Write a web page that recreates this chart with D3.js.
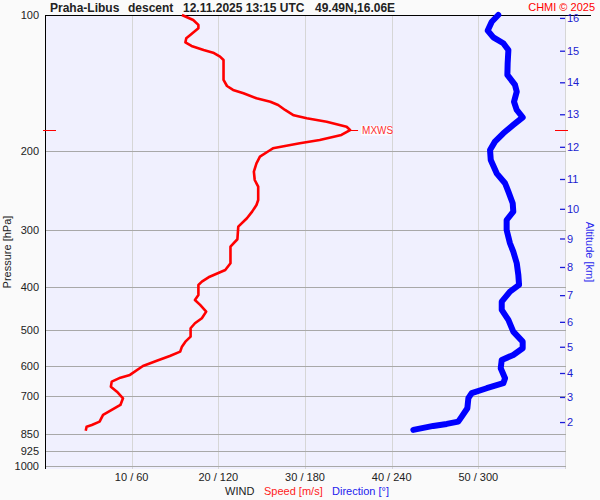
<!DOCTYPE html>
<html><head><meta charset="utf-8">
<script src="https://cdn.jsdelivr.net/npm/d3@7"></script>
<style>
body{margin:0;background:#fafafa}
svg{display:block;font-family:"Liberation Sans",Arial,sans-serif}
</style>
</head><body><svg id="c" width="600" height="500"></svg>
<script>
// ---- data ----
const titleParts = ["Praha-Libus", "descent", "12.11.2025 13:15 UTC", "49.49N,16.06E"];
const pressureTicks = [100, 200, 300, 400, 500, 600, 700, 850, 925, 1000];
const windTicks = [10, 20, 30, 40, 50];
const windTickLabels = ["10 / 60", "20 / 120", "30 / 180", "40 / 240", "50 / 300"];
const altKm = [2, 3, 4, 5, 6, 7, 8, 9, 10, 11, 12, 13, 14, 15, 16];
const altPressure = [799, 703, 622, 544, 479, 418, 362, 313, 269, 231, 196, 166, 141, 120, 101.5];

const speedPressure = [100,102.6,105.2,107,110.2,112.6,115,117.1,119.6,121.2,123.7,125.8,139.3,143.7,146.6,149.1,153,155.7,158.3,162.4,166.9,169.4,172.4,176.9,179.9,184.5,189.3,192.5,197.5,199.2,206.1,213.2,222.5,232.2,240.2,257.1,263.8,272.9,282.3,294.7,314.2,326.3,355.2,367.6,380.4,390.2,396.8,417.6,428.4,439.4,454.7,470.3,482.5,495,516.7,530,543.7,557.8,570.2,584,600,628.2,637,650.1,667,684.2,707.7,732.3,751.2,770.5,797.4,811,818,834.9];
const speedValues = [15.8,17.1,17.7,17.7,16.9,16.3,16.2,16.9,18.3,19.4,20.2,20.6,20.6,21.0,21.7,22.9,24.4,26.0,26.9,27.7,28.7,30.2,32.5,34.8,35.2,34.2,31.7,29.4,26.3,26.0,24.8,24.4,24.1,24.2,24.6,24.6,24.4,23.9,23.3,22.3,22.2,21.4,21.4,20.8,19.0,18.1,17.7,17.7,17.3,17.9,18.6,18.1,17.3,16.8,16.8,16.2,15.8,15.6,14.4,12.9,11.3,9.8,8.7,7.7,7.6,8.3,9.0,8.7,7.7,6.7,6.3,5.4,4.8,4.7];

const dirPressure = [100,103.5,108.3,112.1,115.5,119.6,128,135.8,142.9,147.9,155.7,162.4,168.6,175.3,182.9,190.9,199.2,209.6,224.4,236.1,246.4,261.5,272.9,284.8,299.7,320.7,334.8,355.2,377.1,396.8,410.6,432.1,450.8,474.4,503.6,530,548.2,567.2,581.9,607.1,638.7,655.4,672.3,689.6,707.4,744.7,777.1,797.4,806.7,815,831.8];
const dirValues = [313.8,309.3,306.5,310.4,317.3,320.8,320.3,320.1,325.4,326.6,324.7,326.6,330.7,324.2,317.3,311.5,308.1,308.6,312.7,318.5,320.8,323.8,324.2,319.6,319.6,321.9,324.2,326.6,327.7,328.2,321.9,316.2,316.2,320.8,324.2,330.7,330.7,324.2,316.2,315.5,318.5,317.3,305.8,295.4,293.1,292.4,288.5,286.1,278.1,268.8,255.0];

// ---- layout ----
const L = 45, R = 566, T = 15, B = 469;
const svg = d3.select("#c");
const y = d3.scaleLog().domain([100, 1000]).range([T, 466]);
const xs = d3.scaleLinear().domain([0, 60]).range([L, 565]);
const xd = d3.scaleLinear().domain([0, 360]).range([L, 565]);

svg.append("rect").attr("x", 0).attr("y", 0).attr("width", 600).attr("height", 500).attr("fill", "#fafafa");
svg.append("rect").attr("x", L).attr("y", T).attr("width", R - L).attr("height", B - T).attr("fill", "#f0f0fe");

// vertical grid
svg.append("g").selectAll("line").data(windTicks.concat([60])).join("line")
  .attr("x1", d => Math.round(xs(d)) + 0.5).attr("x2", d => Math.round(xs(d)) + 0.5)
  .attr("y1", T).attr("y2", B).attr("stroke", "#d6d6d6").attr("stroke-width", 1);

// horizontal grid
svg.append("g").selectAll("line").data(pressureTicks.slice(1)).join("line")
  .attr("x1", L).attr("x2", R)
  .attr("y1", d => Math.round(y(d)) + 0.5).attr("y2", d => Math.round(y(d)) + 0.5)
  .attr("stroke", "#a8a8a8").attr("stroke-width", 1);

// left pressure axis labels
const ay = svg.append("g").attr("transform", `translate(${L},0)`)
  .call(d3.axisLeft(y).tickValues(pressureTicks).tickSize(0).tickPadding(6).tickFormat(d3.format("d")));
ay.select(".domain").remove();
ay.selectAll("text").attr("font-size", 11).attr("fill", "#222").attr("font-family", "Liberation Sans, Arial, sans-serif");

// axis frame lines
svg.append("line").attr("x1", L + 0.5).attr("x2", L + 0.5).attr("y1", T).attr("y2", B).attr("stroke", "#000");
svg.append("line").attr("x1", L).attr("x2", 591).attr("y1", T + 0.5).attr("y2", T + 0.5).attr("stroke", "#000");

// right altitude axis
const ar = svg.append("g").attr("transform", `translate(560,0)`)
  .call(d3.axisRight(y).tickValues(altPressure).tickSize(5).tickPadding(2).tickFormat((d, i) => altKm[i]));
ar.select(".domain").remove();
ar.selectAll("line").attr("stroke", "#1c1cd8").attr("stroke-width", 1.3);
ar.selectAll("text").attr("font-size", 11).attr("fill", "#1c1cd0").attr("font-family", "Liberation Sans, Arial, sans-serif");

// bottom wind tick labels
svg.append("g").selectAll("text").data(windTicks).join("text")
  .attr("x", d => xs(d)).attr("y", 481).attr("text-anchor", "middle")
  .attr("font-size", 11).attr("fill", "#222").text((d, i) => windTickLabels[i]);

// curves
const speedData = speedPressure.map((p, i) => ({p, v: speedValues[i]}));
const dirData = dirPressure.map((p, i) => ({p, v: dirValues[i]}));

svg.append("path").datum(dirData)
  .attr("d", d3.line().x(d => xd(d.v)).y(d => y(d.p)))
  .attr("fill", "none").attr("stroke", "#0000ff").attr("stroke-width", 6)
  .attr("stroke-linecap", "round").attr("stroke-linejoin", "round");

svg.append("path").datum(speedData)
  .attr("d", d3.line().x(d => xs(d.v)).y(d => y(d.p)))
  .attr("fill", "none").attr("stroke", "#ff0000").attr("stroke-width", 2.6)
  .attr("stroke-linejoin", "round");

// MXWS marker
const iMax = d3.maxIndex(speedValues);
const yM = Math.round(y(speedPressure[iMax])) + 0.5;
const xM = xs(speedValues[iMax]);
svg.append("line").attr("x1", 43).attr("x2", 56).attr("y1", yM).attr("y2", yM).attr("stroke", "#ff0000");
svg.append("line").attr("x1", 555).attr("x2", 568).attr("y1", yM).attr("y2", yM).attr("stroke", "#ff0000");
svg.append("line").attr("x1", xM).attr("x2", xM + 8).attr("y1", yM).attr("y2", yM).attr("stroke", "#ff0000");
svg.append("rect").attr("x", xM + 11).attr("y", yM - 5).attr("width", 31).attr("height", 10).attr("fill", "#fbfbff");
svg.append("text").attr("x", xM + 12).attr("y", yM + 3.5).attr("font-size", 10).attr("fill", "#ff3030").text("MXWS");

// title
const titleX = [50, 128, 183, 315];
svg.append("g").selectAll("text").data(titleParts).join("text")
  .attr("x", (d, i) => titleX[i]).attr("y", 12).attr("font-size", 12).attr("font-weight", "bold")
  .attr("fill", "#222").text(d => d);
svg.append("text").attr("x", 595).attr("y", 10.5).attr("text-anchor", "end").attr("font-size", 11)
  .attr("fill", "#ff0000").text("CHMI \u00A9 2025");

// axis titles
svg.append("text").attr("transform", "translate(11,252) rotate(-90)").attr("text-anchor", "middle")
  .attr("font-size", 11).attr("fill", "#222").text("Pressure [hPa]");
svg.append("text").attr("transform", "translate(586,252) rotate(90)").attr("text-anchor", "middle")
  .attr("font-size", 11).attr("fill", "#2b2bee").text("Altitude [km]");

// bottom legend
svg.append("text").attr("x", 225).attr("y", 495).attr("font-size", 11).attr("fill", "#222").text("WIND");
svg.append("text").attr("x", 264).attr("y", 495).attr("font-size", 11).attr("fill", "#ff1a1a").text("Speed [m/s]");
svg.append("text").attr("x", 332).attr("y", 495).attr("font-size", 11).attr("fill", "#2222ee").text("Direction [\u00B0]");
</script>
</body></html>
